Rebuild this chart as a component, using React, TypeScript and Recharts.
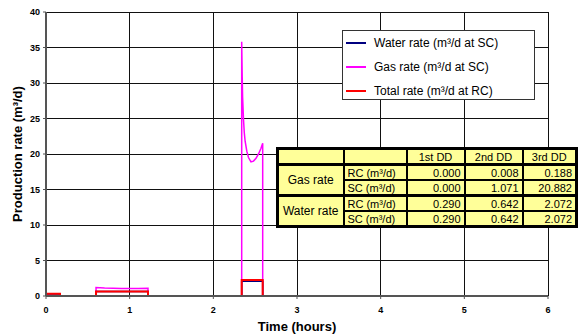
import React from 'react';
import { LineChart, Line, XAxis, YAxis, CartesianGrid, Legend } from 'recharts';

// ---- data ----
const xTicks = [0, 1, 2, 3, 4, 5, 6];
const yTicks = [0, 5, 10, 15, 20, 25, 30, 35, 40];

const gasTime = [0, 0.167, 0.598, 0.598, 0.7, 0.8, 0.9, 1.0, 1.1, 1.219, 1.219, 2.339, 2.339, 2.345, 2.35, 2.36, 2.37, 2.38, 2.4, 2.42, 2.45, 2.48, 2.51, 2.54, 2.57, 2.59, 2.59, 5.72];
const gasRate = [0, 0, 0, 1.2, 1.12, 1.08, 1.06, 1.06, 1.07, 1.08, 0, 0, 35.8, 31, 28, 25, 23, 21.8, 20.4, 19.5, 18.9, 19.0, 19.4, 20.0, 20.8, 21.5, 0, 0];

const stepTime = [0, 0.167, 0.167, 0.598, 0.598, 1.219, 1.219, 2.339, 2.339, 2.59, 2.59, 5.72];
const waterRate = [0.29, 0.29, 0, 0, 0.642, 0.642, 0, 0, 2.072, 2.072, 0, 0];
const totalRate = [0.33, 0.33, 0, 0, 0.65, 0.65, 0, 0, 2.26, 2.26, 0, 0];

const tableCols = ['1st DD', '2nd DD', '3rd DD'];
const gasRC = [0.0, 0.008, 0.188];
const gasSC = [0.0, 1.071, 20.882];
const waterRC = [0.29, 0.642, 2.072];
const waterSC = [0.29, 0.642, 2.072];

const seriesNames = ['Water rate (m³/d at SC)', 'Gas rate (m³/d at SC)', 'Total rate (m³/d at RC)'];
const seriesColors = ['#000080', '#FF00FF', '#FF0000'];

const gasData = gasTime.map((t, i) => ({ t, v: gasRate[i] }));
const waterData = stepTime.map((t, i) => ({ t, v: waterRate[i] }));
const totalData = stepTime.map((t, i) => ({ t, v: totalRate[i] }));

const FONT = '"Liberation Sans", Arial, sans-serif';

const LegendBox = () => (
  <div
    style={{
      width: 191,
      height: 68,
      border: '1px solid #333',
      background: '#fff',
      fontFamily: FONT,
      fontSize: 12,
      color: '#000',
      boxSizing: 'content-box',
      textAlign: 'left',
    }}
  >
    {seriesNames.map((n, i) => (
      <div key={n} style={{ display: 'flex', alignItems: 'center', height: 24 }}>
        <div style={{ width: 20, height: 2, background: seriesColors[i], marginLeft: 3, marginRight: 8 }} />
        <span>{n}</span>
      </div>
    ))}
  </div>
);

const cell = (extra: React.CSSProperties = {}): React.CSSProperties => ({
  border: '2px solid #000',
  padding: '0 3px',
  fontFamily: FONT,
  fontSize: 11,
  lineHeight: '12px',
  height: 13,
  background: '#FFFF99',
  color: '#000',
  whiteSpace: 'nowrap',
  ...extra,
});

const fmt = (v: number) => v.toFixed(3);

const DataTable = () => (
  <table
    style={{
      position: 'absolute',
      left: 276,
      top: 147,
      width: 299,
      borderCollapse: 'collapse',
      border: '3px solid #000',
      tableLayout: 'fixed',
    }}
  >
    <colgroup>
      <col style={{ width: 66 }} />
      <col style={{ width: 63 }} />
      <col style={{ width: 58 }} />
      <col style={{ width: 58 }} />
      <col style={{ width: 54 }} />
    </colgroup>
    <tbody>
      <tr>
        <td style={cell({ borderBottomWidth: 3 })}></td>
        <td style={cell({ borderBottomWidth: 3 })}></td>
        {tableCols.map((c) => (
          <td key={c} style={cell({ textAlign: 'center', borderBottomWidth: 3 })}>{c}</td>
        ))}
      </tr>
      <tr>
        <td rowSpan={2} style={cell({ textAlign: 'center', fontSize: 12, borderBottomWidth: 3 })}>Gas rate</td>
        <td style={cell()}>RC (m³/d)</td>
        {gasRC.map((v, i) => (
          <td key={i} style={cell({ textAlign: 'right' })}>{fmt(v)}</td>
        ))}
      </tr>
      <tr>
        <td style={cell({ borderBottomWidth: 3 })}>SC (m³/d)</td>
        {gasSC.map((v, i) => (
          <td key={i} style={cell({ textAlign: 'right', borderBottomWidth: 3 })}>{fmt(v)}</td>
        ))}
      </tr>
      <tr>
        <td rowSpan={2} style={cell({ textAlign: 'center', fontSize: 12 })}>Water rate</td>
        <td style={cell()}>RC (m³/d)</td>
        {waterRC.map((v, i) => (
          <td key={i} style={cell({ textAlign: 'right' })}>{fmt(v)}</td>
        ))}
      </tr>
      <tr>
        <td style={cell()}>SC (m³/d)</td>
        {waterSC.map((v, i) => (
          <td key={i} style={cell({ textAlign: 'right' })}>{fmt(v)}</td>
        ))}
      </tr>
    </tbody>
  </table>
);

const tickStyle = { fontSize: 9, fontWeight: 700, fill: '#000', fontFamily: FONT };

export default function App() {
  return (
    <div style={{ position: 'fixed', left: 0, top: 0, width: 578, height: 334, background: '#fff' }}>
      <style>{`.recharts-cartesian-grid line { shape-rendering: crispEdges; stroke: #111; stroke-opacity: 1; }`}</style>
      <LineChart width={578} height={334} margin={{ top: 12, right: 30, bottom: 0, left: 0 }}>
        <CartesianGrid stroke="#111" strokeWidth={1} />
        <XAxis
          dataKey="t"
          type="number"
          domain={[0, 6]}
          ticks={xTicks}
          allowDuplicatedCategory={false}
          height={38}
          tickSize={3}
          tickMargin={8}
          stroke="#555"
          axisLine={{ stroke: '#555', strokeWidth: 2 }}
          tick={tickStyle}
          label={(props: any) => {
            const vb = props.viewBox;
            return (
              <text x={vb.x + vb.width / 2} y={331} textAnchor="middle" fontFamily={FONT} fontSize={13} fontWeight={700} fill="#000">
                Time (hours)
              </text>
            );
          }}
        />
        <YAxis
          type="number"
          domain={[0, 40]}
          ticks={yTicks}
          width={46}
          tickSize={3}
          tickMargin={3}
          stroke="#555"
          axisLine={{ stroke: '#555', strokeWidth: 2 }}
          tick={tickStyle}
          label={(props: any) => {
            const vb = props.viewBox;
            const cx = 22;
            const cy = vb.y + vb.height / 2;
            return (
              <text x={cx} y={cy} transform={`rotate(-90 ${cx} ${cy})`} textAnchor="middle" fontFamily={FONT} fontSize={13} fontWeight={700} fill="#000">
                Production rate (m³/d)
              </text>
            );
          }}
        />
        <Legend
          layout="vertical"
          align="center"
          verticalAlign="middle"
          wrapperStyle={{ left: 342, top: 30, width: 193, height: 70 }}
          content={() => <LegendBox />}
        />
        <Line data={gasData} dataKey="v" type="linear" stroke="#FF00FF" strokeWidth={1.5} dot={false} isAnimationActive={false} />
        <Line data={waterData} dataKey="v" type="linear" stroke="#000080" strokeWidth={1.5} dot={false} isAnimationActive={false} />
        <Line data={totalData} dataKey="v" type="linear" stroke="#FF0000" strokeWidth={2} dot={false} isAnimationActive={false} />
      </LineChart>
      <DataTable />
    </div>
  );
}
